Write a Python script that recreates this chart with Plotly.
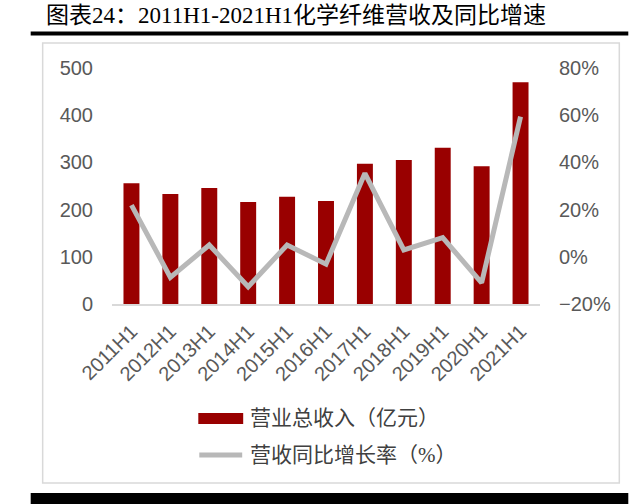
import plotly.graph_objects as go

categories = ["2011H1", "2012H1", "2013H1", "2014H1", "2015H1", "2016H1",
              "2017H1", "2018H1", "2019H1", "2020H1", "2021H1"]
revenue = [256, 233, 246, 216, 227, 218, 297, 305, 331, 292, 470]
growth = [0.219, -0.087, 0.050, -0.127, 0.050, -0.031, 0.354, 0.029, 0.081, -0.110, 0.594]

left_ticks = [0, 100, 200, 300, 400, 500]
right_ticks = [-0.2, 0, 0.2, 0.4, 0.6, 0.8]
right_labels = ["\u221220%", "0%", "20%", "40%", "60%", "80%"]

title_text = "图表24：2011H1-2021H1化学纤维营收及同比增速"
legend_bar = "营业总收入（亿元）"
legend_line = "营收同比增长率（%）"

W, H = 629, 504
L, R, T, B = 111.5, 540.5, 68, 304


def px(x):
    return (x - L) / (R - L)


def py(y):
    return (B - y) / (B - T)


BAR_COLOR = "#990000"
LINE_COLOR = "#B8B8B8"
TICK_COLOR = "#595959"
TICK_FONT = dict(family="Liberation Sans, Arial, sans-serif", size=20, color=TICK_COLOR)
CJK_FONT = "Liberation Serif, Noto Sans CJK SC, serif"

fig = go.Figure()
fig.add_trace(go.Bar(x=categories, y=revenue, marker=dict(color=BAR_COLOR, line_width=0),
                     showlegend=False, yaxis="y"))
fig.add_trace(go.Scatter(x=categories, y=growth, mode="lines",
                         line=dict(color=LINE_COLOR, width=5), showlegend=False, yaxis="y2"))

shapes = [
    # top black rule
    dict(type="rect", xref="paper", yref="paper", x0=px(30), x1=px(629), y0=py(35.5), y1=py(31.5),
         fillcolor="black", line_width=0, layer="above"),
    # gray frame
    dict(type="rect", xref="paper", yref="paper", x0=px(42), x1=px(620), y0=py(483), y1=py(43),
         fillcolor="rgba(0,0,0,0)", line=dict(color="#D9D9D9", width=1.5), layer="below"),
    # bottom black rule
    dict(type="rect", xref="paper", yref="paper", x0=px(30), x1=px(629), y0=py(504), y1=py(493),
         fillcolor="black", line_width=0, layer="above"),
    # legend: bar swatch
    dict(type="rect", xref="paper", yref="paper", x0=px(198), x1=px(243), y0=py(424), y1=py(413),
         fillcolor=BAR_COLOR, line_width=0),
    # legend: line swatch
    dict(type="line", xref="paper", yref="paper", x0=px(199), x1=px(242), y0=py(455), y1=py(455),
         line=dict(color=LINE_COLOR, width=5)),
]

annotations = [
    dict(text=title_text, xref="paper", yref="paper", x=px(43), y=py(16), xanchor="left",
         yanchor="middle", showarrow=False,
         font=dict(family=CJK_FONT, size=23, color="black")),
    dict(text=legend_bar, xref="paper", yref="paper", x=px(248), y=py(418), xanchor="left",
         yanchor="middle", showarrow=False, font=dict(family=CJK_FONT, size=21, color="#404040")),
    dict(text=legend_line, xref="paper", yref="paper", x=px(248), y=py(455), xanchor="left",
         yanchor="middle", showarrow=False, font=dict(family=CJK_FONT, size=21, color="#404040")),
]

fig.update_layout(
    width=W, height=H,
    margin=dict(l=L, r=W - R, t=T, b=H - B, pad=0),
    paper_bgcolor="white", plot_bgcolor="white",
    bargap=0.59,
    showlegend=False,
    xaxis=dict(type="category", tickangle=-45, tickfont=TICK_FONT, showgrid=False,
               showline=True, linecolor="#D9D9D9", linewidth=1.5, ticks="",
               ticklabelstandoff=6),
    yaxis=dict(range=[0, 500], tickvals=left_ticks, tickfont=TICK_FONT, showgrid=False,
               zeroline=False, showline=False, ticks="", ticklabelstandoff=18),
    yaxis2=dict(range=[-0.2, 0.8], overlaying="y", side="right", tickvals=right_ticks,
                ticktext=right_labels, tickfont=TICK_FONT, showgrid=False, zeroline=False,
                showline=False, ticks="", ticklabelstandoff=18),
    shapes=shapes,
    annotations=annotations,
)

fig.write_html("out.html", config={"displayModeBar": False},
               post_script="document.body.style.margin='0';document.body.style.overflow='hidden';")
